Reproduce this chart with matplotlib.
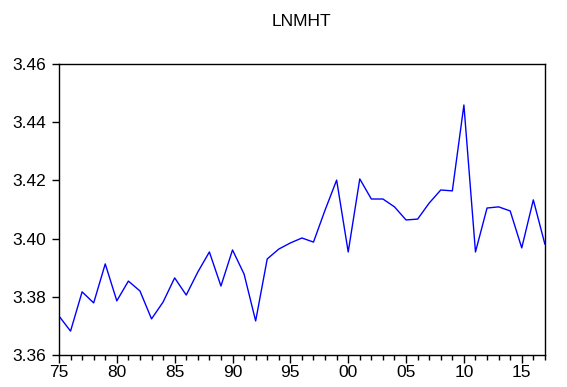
import matplotlib
matplotlib.use("Agg")
import matplotlib.pyplot as plt
import numpy as np
from matplotlib.ticker import MultipleLocator

plt.rcParams['font.family'] = ['Liberation Sans', 'DejaVu Sans']

# 年份及 LNMHT 数值
years = list(range(1975, 2018))
lnmht = [3.3734, 3.3682, 3.3817, 3.3779, 3.3913, 3.3786, 3.3854, 3.3820,
         3.3724, 3.3782, 3.3865, 3.3806, 3.3885, 3.3954, 3.3837, 3.3961,
         3.3878, 3.3717, 3.3930, 3.3964, 3.3985, 3.4002, 3.3988, 3.4098,
         3.4201, 3.3954, 3.4205, 3.4136, 3.4136, 3.4109, 3.4064, 3.4067,
         3.4122, 3.4167, 3.4164, 3.4459, 3.3954, 3.4105, 3.4109, 3.4095,
         3.3968, 3.4133, 3.3981]
xticks = [1975, 1980, 1985, 1990, 1995, 2000, 2005, 2010, 2015]
xlabels = ["75", "80", "85", "90", "95", "00", "05", "10", "15"]
yticks = [3.36, 3.38, 3.40, 3.42, 3.44, 3.46]

fig = plt.figure(figsize=(5.67, 3.87), dpi=100)
ax = fig.add_axes([0.104, 0.0827, 0.857, 0.752])
ax.plot(years, lnmht, color="#0000ff", linewidth=1.0)

ax.set_xlim(1975, 2017)
ax.set_ylim(3.36, 3.46)
ax.set_xticks(xticks)
ax.set_xticklabels(xlabels)
ax.xaxis.set_minor_locator(MultipleLocator(1))
ax.set_yticks(yticks)
ax.set_yticklabels(["%.2f" % v for v in yticks])

ax.tick_params(axis="x", which="major", direction="out", length=5.5, width=1, labelsize=12.5, pad=2)
ax.tick_params(axis="x", which="minor", direction="out", length=3.5, width=1)
ax.tick_params(axis="y", which="major", direction="out", length=5, width=1, labelsize=12.5, pad=4.5)
for s in ax.spines.values():
    s.set_linewidth(1.0)

ax.set_title("LNMHT", fontsize=12.5, pad=27)

fig.savefig("out.png", dpi=100)
